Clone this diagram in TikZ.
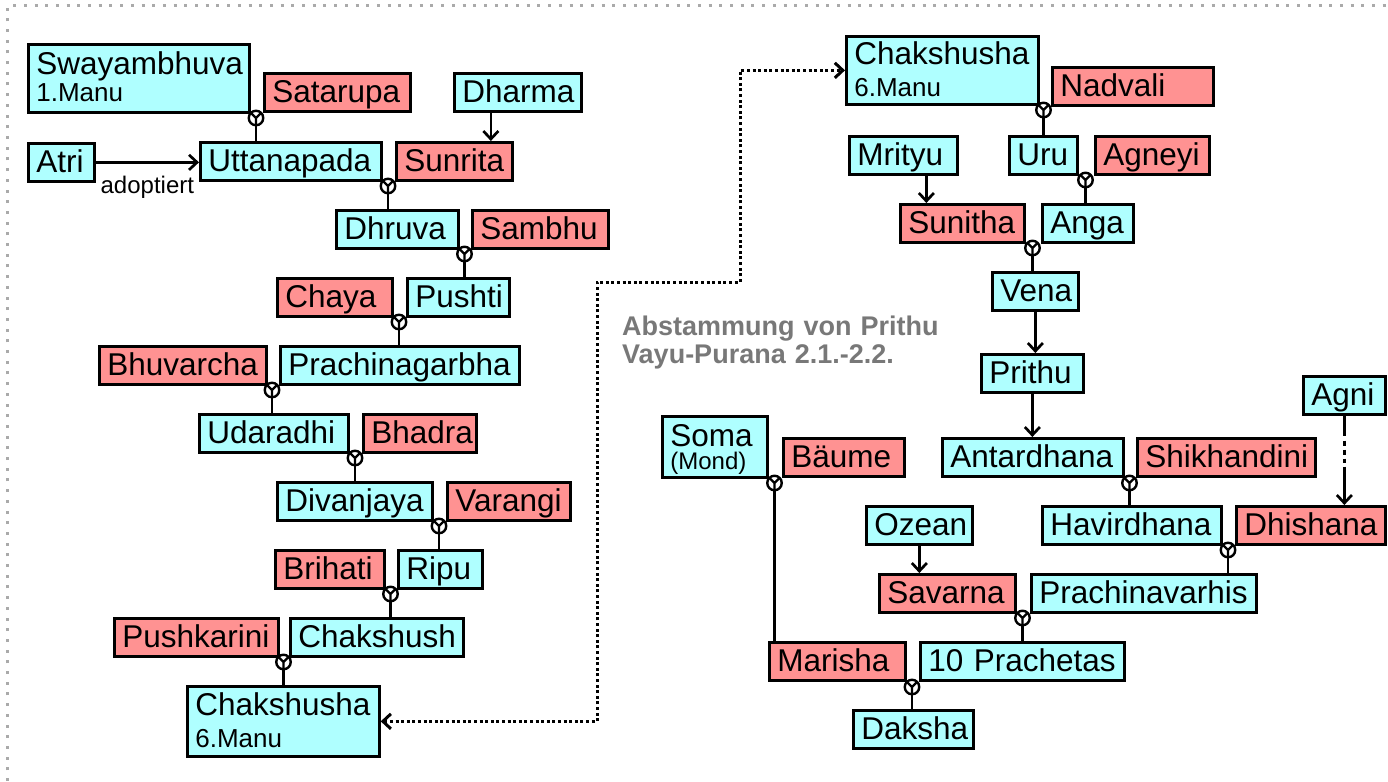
\documentclass[tikz,border=0pt]{standalone}
\usepackage{fontspec}
\setmainfont{Liberation Sans}
\usetikzlibrary{arrows.meta}
\definecolor{hellblau}{RGB}{175,255,255}
\definecolor{rosa}{RGB}{255,146,146}
\definecolor{titelgrau}{RGB}{120,120,120}
\definecolor{rahmengrau}{RGB}{170,170,170}
\newcommand{\grosstxt}{\fontsize{31.5}{33}\selectfont}
\newcommand{\manutxt}{\fontsize{26}{28}\selectfont}
\newcommand{\kleintxt}{\fontsize{24}{26}\selectfont}
\begin{document}
\begin{tikzpicture}[x=1pt, y=-1pt,
    person/.style={draw, line width=2.7pt, anchor=north west, align=left, inner xsep=8pt, inner ysep=0pt,
      minimum height=38pt, text height=24pt, text depth=4pt, font=\grosstxt},
    mann/.style={person, fill=hellblau, text width=#1pt},
    frau/.style={person, fill=rosa, text width=#1pt},
    ehe/.style={circle, draw, fill=white, line width=2.4pt, minimum size=14.5pt, inner sep=0pt,
      path picture={\draw[line width=2.4pt] (path picture bounding box.north west) -- (path picture bounding box.center)
        -- (path picture bounding box.north east) (path picture bounding box.center) -- (path picture bounding box.south);}},
    kante/.style={line width=2.7pt},
    pfeil/.style={line width=2.7pt, -{Straight Barb[length=8pt, width=15pt]}},
    weg/.style={line width=3pt, dash pattern=on 3pt off 2.6pt, {Straight Barb[length=8pt, width=15pt]}-{Straight Barb[length=8pt, width=15pt]}},
    rahmen/.style={line width=3pt, rahmengrau, dash pattern=on 3pt off 7.7pt},
    titel/.style={anchor=north west, align=left, inner sep=0pt, text width=340pt, text height=20pt,
      text=titelgrau, font=\bfseries\fontsize{27}{28}\selectfont}]
  \useasboundingbox (0,0) rectangle (1388,781);
  \draw[rahmen] (7,781) |- (1388,6);

  \node[mann=205, text height=30pt, text depth=38pt, minimum height=68pt] (swayambhuva) at (27,43) {Swayambhuva\\[-6pt]{\manutxt 1.Manu}};
  \node[frau=130] (satarupa) at (263,72) {Satarupa};
  \node[mann=111] (dharma) at (453,72) {Dharma};
  \node[mann=50] (atri) at (27,142) {Atri};
  \node[mann=165] (uttanapada) at (199,141) {Uttanapada};
  \node[frau=100] (sunrita) at (395,141) {Sunrita};
  \node[mann=106] (dhruva) at (335,209) {Dhruva};
  \node[frau=120] (sambhu) at (471,209) {Sambhu};
  \node[frau=99] (chaya) at (276,277) {Chaya};
  \node[mann=86] (pushti) at (406,277) {Pushti};
  \node[frau=151] (bhuvarcha) at (98,345) {Bhuvarcha};
  \node[mann=223] (prachinagarbha) at (279,345) {Prachinagarbha};
  \node[mann=133] (udaradhi) at (198,413) {Udaradhi};
  \node[frau=97] (bhadra) at (362,413) {Bhadra};
  \node[mann=139] (divanjaya) at (276,481) {Divanjaya};
  \node[frau=107] (varangi) at (446,481) {Varangi};
  \node[frau=93] (brihati) at (274,549) {Brihati};
  \node[mann=68] (ripu) at (397,549) {Ripu};
  \node[frau=148] (pushkarini) at (113,617) {Pushkarini};
  \node[mann=157] (chakshush) at (289,617) {Chakshush};
  \node[mann=176, text height=29pt, text depth=41pt, minimum height=70pt] (chakshushaL) at (186,685) {Chakshusha\\[-1pt]{\manutxt 6.Manu}};

  \node[mann=176, text height=28pt, text depth=40pt, minimum height=68pt] (chakshushaR) at (845,35) {Chakshusha\\[-1pt]{\manutxt 6.Manu}};
  \node[frau=145] (nadvali) at (1051,66) {Nadvali};
  \node[mann=92] (mrityu) at (848,135) {Mrityu};
  \node[mann=52] (uru) at (1008,135) {Uru};
  \node[frau=98] (agneyi) at (1094,135) {Agneyi};
  \node[frau=108] (sunitha) at (899,203) {Sunitha};
  \node[mann=75] (anga) at (1041,203) {Anga};
  \node[mann=70] (vena) at (991,271) {Vena};
  \node[mann=86] (prithu) at (980,353) {Prithu};
  \node[mann=66] (agni) at (1302,375) {Agni};
  \node[mann=89, text height=30pt, text depth=31pt, minimum height=61pt] (soma) at (661,415) {Soma\\[-10pt]{\kleintxt (Mond)}};
  \node[frau=105] (baeume) at (782,437) {Bäume};
  \node[mann=165] (antardhana) at (941,437) {Antardhana};
  \node[frau=162] (shikhandini) at (1136,437) {Shikhandini};
  \node[mann=90] (ozean) at (865,505) {Ozean};
  \node[mann=163] (havirdhana) at (1041,505) {Havirdhana};
  \node[frau=133] (dhishana) at (1235,505) {Dhishana};
  \node[frau=120] (savarna) at (878,573) {Savarna};
  \node[mann=209] (prachinavarhis) at (1030,573) {Prachinavarhis};
  \node[frau=120] (marisha) at (768,641) {Marisha};
  \node[mann=188] (prachetas) at (919,641) {\mbox{10 Prachetas}};
  \node[mann=104] (daksha) at (852,709) {Daksha};

  \node[titel] (titel) at (622,315) {Abstammung von Prithu\\Vayu-Purana 2.1.-2.2.};

  \node[ehe] (e1) at (256,118) {};
  \node[ehe] (e2) at (388,186) {};
  \node[ehe] (e3) at (464.5,254) {};
  \node[ehe] (e4) at (399,322) {};
  \node[ehe] (e5) at (272,390) {};
  \node[ehe] (e6) at (355,458) {};
  \node[ehe] (e7) at (439,526) {};
  \node[ehe] (e8) at (390.5,594) {};
  \node[ehe] (e9) at (283.5,662) {};
  \node[ehe] (e10) at (1043.5,110) {};
  \node[ehe] (e11) at (1085.5,180) {};
  \node[ehe] (e12) at (1032.5,248) {};
  \node[ehe] (e13) at (774.5,483) {};
  \node[ehe] (e14) at (1129.5,483) {};
  \node[ehe] (e15) at (1228,550) {};
  \node[ehe] (e16) at (1022.5,618) {};
  \node[ehe] (e17) at (912,687) {};

  \draw[kante] (e1.south) -- (e1.south |- uttanapada.north);
  \draw[kante] (e2.south) -- (e2.south |- dhruva.north);
  \draw[kante] (e3.south) -- (e3.south |- pushti.north);
  \draw[kante] (e4.south) -- (e4.south |- prachinagarbha.north);
  \draw[kante] (e5.south) -- (e5.south |- udaradhi.north);
  \draw[kante] (e6.south) -- (e6.south |- divanjaya.north);
  \draw[kante] (e7.south) -- (e7.south |- ripu.north);
  \draw[kante] (e8.south) -- (e8.south |- chakshush.north);
  \draw[kante] (e9.south) -- (e9.south |- chakshushaL.north);
  \draw[kante] (e10.south) -- (e10.south |- uru.north);
  \draw[kante] (e11.south) -- (e11.south |- anga.north);
  \draw[kante] (e12.south) -- (e12.south |- vena.north);
  \draw[kante] (e13.south) -- (e13.south |- marisha.north);
  \draw[kante] (e14.south) -- (e14.south |- havirdhana.north);
  \draw[kante] (e15.south) -- (e15.south |- prachinavarhis.north);
  \draw[kante] (e16.south) -- (e16.south |- prachetas.north);
  \draw[kante] (e17.south) -- (e17.south |- daksha.north);

  \draw[pfeil] (atri.east) -- node[below=9pt, font=\kleintxt] {adoptiert} (atri.east -| uttanapada.west);
  \draw[pfeil] ([xshift=-27pt]dharma.south) -- ([xshift=-27pt]dharma.south |- sunrita.north);
  \draw[pfeil] ([xshift=23pt]mrityu.south) -- ([xshift=23pt]mrityu.south |- sunitha.north);
  \draw[pfeil] (vena.south) -- (vena.south |- prithu.north);
  \draw[pfeil] (prithu.south) -- (prithu.south |- antardhana.north);
  \draw[pfeil] (ozean.south) -- (ozean.south |- savarna.north);
  \draw[pfeil, dash pattern=on 20pt off 5pt on 5pt off 4pt on 5pt off 4pt on 4pt off 4pt on 60pt] (agni.south) -- (agni.south |- dhishana.north);

  \coordinate (k1) at (597,282);
  \coordinate (k2) at (740,282);
  \draw[weg] (chakshushaL.east) -| (k1) -- (k2) |- (chakshushaR.west);
\end{tikzpicture}
\end{document}
